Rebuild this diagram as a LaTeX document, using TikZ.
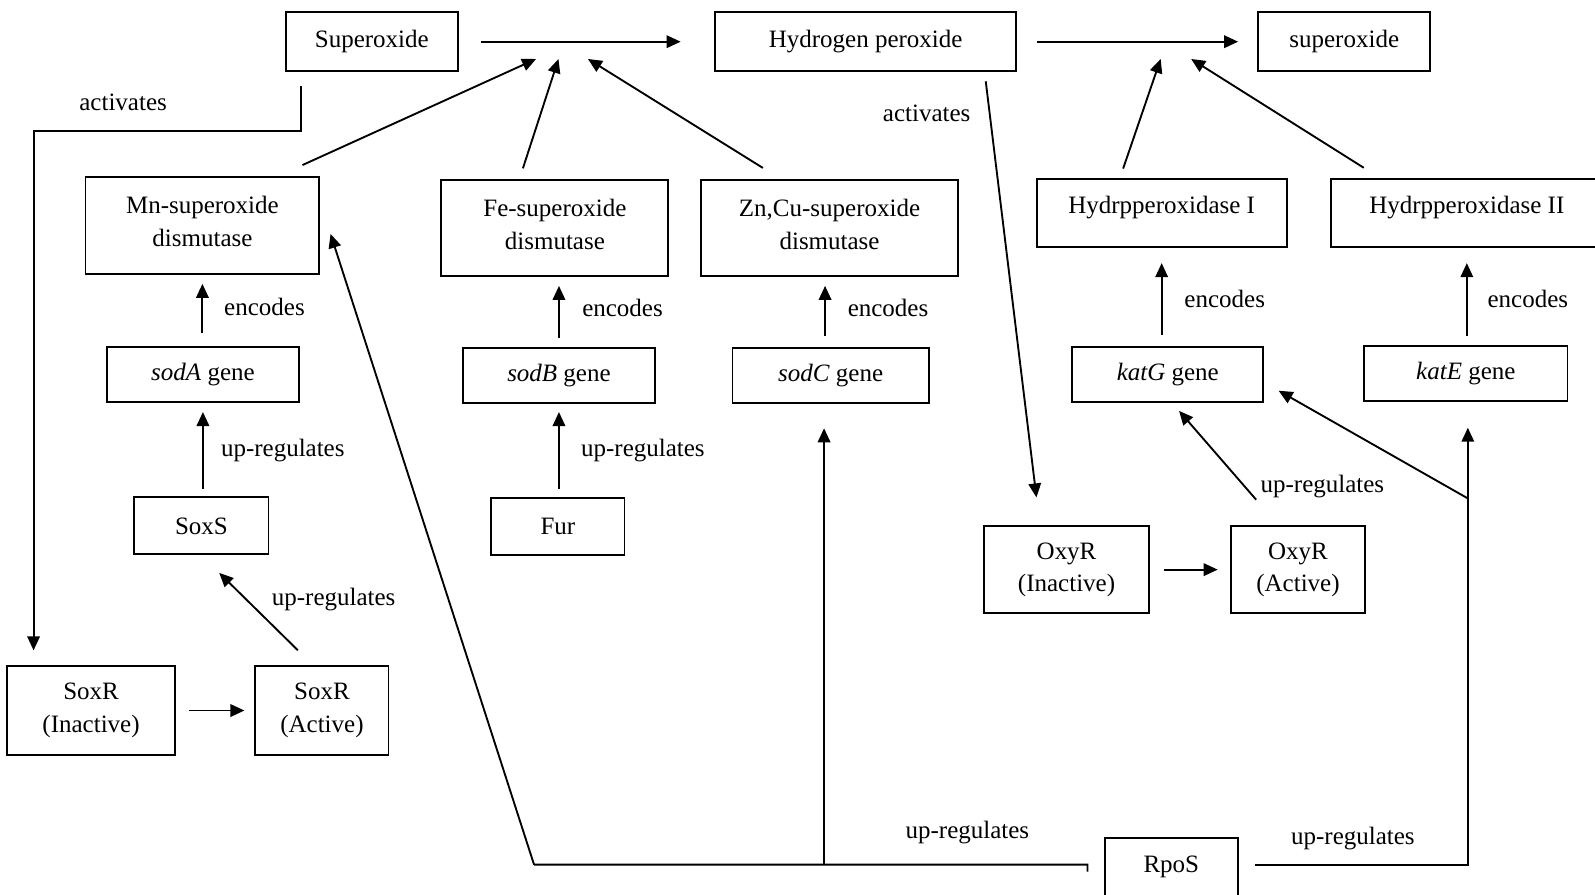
\documentclass[tikz,border=0pt]{standalone}
\usepackage{fontspec}
\setmainfont{Liberation Serif}
\usetikzlibrary{arrows.meta}

\begin{document}
\begin{tikzpicture}[x=0.407pt,y=-0.407pt,
		font=\fontsize{10}{13}\selectfont,
		box/.style={draw,line width=0.75pt,align=center,inner sep=1pt},
		arr/.style={line width=0.75pt,-{Triangle[length=5.6pt,width=5pt]}},
		lne/.style={line width=0.75pt},
		lbl/.style={inner sep=1pt}]
		\useasboundingbox (0,0) rectangle (1568,879);
		% top row
		\node[box,minimum width=68.8pt,minimum height=23.6pt] (sup) at (365.5,41) {Superoxide};
		\node[box,minimum width=120.5pt,minimum height=23.6pt] (hyd) at (851,41) {Hydrogen peroxide};
		\node[box,minimum width=68.8pt,minimum height=23.6pt] (supb) at (1321.5,41) {superoxide};
		\coordinate (t1) at (527,58);
		\coordinate (t2) at (549,58);
		\coordinate (t3) at (578,58);
		\coordinate (t4) at (1141,58);
		\coordinate (t5) at (1171,58);
		\draw[arr,shorten <=9pt,shorten >=13.4pt] (sup) -- (hyd);
		\draw[arr,shorten <=8.1pt,shorten >=7.7pt] (hyd) -- (supb);
		% enzymes
		\node[box,minimum width=93.6pt,minimum height=38.7pt] (mn) at (199,221.5) {Mn-superoxide\\dismutase\\[-10pt]};
		\node[box,minimum width=90.8pt,minimum height=38.3pt] (fe) at (545.5,224) {Fe-superoxide\\dismutase\\[-10pt]};
		\node[box,minimum width=103pt,minimum height=38.3pt] (zn) at (815.5,224) {Zn,Cu-superoxide\\dismutase\\[-10pt]};
		\node[box,minimum width=100.1pt,minimum height=27.3pt] (hpa) at (1142,209.5) {Hydrpperoxidase I\\[-6pt]};
		\node[box,minimum width=109pt,minimum height=27.3pt] (hpb) at (1442,209.5) {Hydrpperoxidase II\\[-6pt]};
		\draw[arr,shorten <=10.6pt] (mn.33) -- (t1);
		\draw[arr,shorten <=4.5pt] (fe.126) -- (t2);
		\draw[arr,shorten <=8.4pt] (zn.135) -- (t3);
		\draw[arr,shorten <=4pt] (hpa.140) -- (t4);
		\draw[arr,shorten <=7.7pt] (hpb.158) -- (t5);
		% genes
		\node[box,minimum width=77pt,minimum height=22pt] (soda) at (199.5,368) {\textit{sodA} gene};
		\node[box,minimum width=77pt,minimum height=22pt] (sodb) at (549.5,369) {\textit{sodB} gene};
		\node[box,minimum width=78.5pt,minimum height=22pt] (sodc) at (816.5,369) {\textit{sodC} gene};
		\node[box,minimum width=76.5pt,minimum height=22pt] (katg) at (1148,368) {\textit{katG} gene};
		\node[box,minimum width=81.4pt,minimum height=22pt] (kate) at (1441,367.5) {\textit{katE} gene};
		\draw[arr,shorten <=5pt,shorten >=3.7pt] (soda.north -| mn.south) -- (mn.south);
		\draw[arr,shorten <=3.7pt,shorten >=3.7pt] (sodb.north) -- (sodb.north |- fe.south);
		\draw[arr,shorten <=4.5pt,shorten >=3.7pt] ([xshift=-2.2pt]sodc.north) -- ([xshift=-2.2pt]sodc.north |- zn.south);
		\draw[arr,shorten <=4.5pt,shorten >=6pt] (katg.north -| hpa.south) -- (hpa.south);
		\draw[arr,shorten <=3.7pt,shorten >=6pt] (kate.north -| hpb.south) -- (hpb.south);
		\node[lbl] (enca) at (260,302) {encodes};
		\node[lbl] (encb) at (612,303) {encodes};
		\node[lbl] (encc) at (873,303) {encodes};
		\node[lbl] (encd) at (1204,294) {encodes};
		\node[lbl] (ence) at (1502,294) {encodes};
		% regulators
		\node[box,minimum width=53.7pt,minimum height=22.8pt] (soxs) at (198,517) {SoxS};
		\node[box,minimum width=53.3pt,minimum height=22.8pt] (fur) at (548.5,518) {Fur};
		\node[box,minimum width=67.2pt,minimum height=35.4pt] (soxri) at (89.5,698.5) {SoxR\\(Inactive)};
		\node[box,minimum width=53.3pt,minimum height=35.4pt] (soxra) at (316.5,698.5) {SoxR\\(Active)};
		\node[box,minimum width=66.3pt,minimum height=35pt] (oxyri) at (1048.5,560) {OxyR\\(Inactive)};
		\node[box,minimum width=53.7pt,minimum height=35pt] (oxyra) at (1276,560) {OxyR\\(Active)};
		\node[box,minimum width=53.3pt,minimum height=23.2pt] (rpos) at (1151.5,852.5) {RpoS};
		\draw[arr,shorten <=2.9pt,shorten >=3.7pt] (soxs.north -| soda.south) -- (soda.south);
		\draw[arr,shorten <=3.3pt,shorten >=3.3pt] (fur.north -| sodb.south) -- (sodb.south);
		\draw[arr,shorten <=5.3pt,shorten >=4pt] (soxri) -- (soxra);
		\draw[arr,shorten <=8.6pt,shorten >=10pt] (soxra.101) -- (soxs.south);
		\draw[arr,shorten <=5.3pt,shorten >=4.9pt] (oxyri) -- (oxyra);
		\draw[arr,shorten <=13.4pt,shorten >=4.3pt] (oxyra.114.6) -- ([xshift=1.7pt]katg.south);
		\node[lbl] (upa) at (278,443) {up-regulates};
		\node[lbl] (upb) at (632,443) {up-regulates};
		\node[lbl] (upc) at (328,589) {up-regulates};
		\node[lbl] (upd) at (1300,478) {up-regulates};
		% activation
		\coordinate (act) at (33,129);
		\draw[arr,shorten <=5.7pt,shorten >=6pt] ([xshift=-28.3pt]sup.south) |- (act) -- (act |- soxri.north);
		\draw[arr,shorten <=3.7pt,shorten >=11.1pt] ([xshift=47.6pt]hyd.south) -- ([xshift=-10.7pt]oxyri.north);
		\node[lbl] (acta) at (121,101) {activates};
		\node[lbl] (actb) at (911,111) {activates};
		% RpoS
		\coordinate (rpl) at (525,850);
		\coordinate (rpr) at (1443,850);
		\coordinate (kbr) at (1443,490);
		\draw[lne] ([xshift=-6.5pt,yshift=-1.8pt]rpos.west) -- ([xshift=-6.5pt,yshift=1pt]rpos.west) -- (rpl);
		\draw[arr,shorten >=13.3pt] (rpl) -- ([yshift=9.2pt]mn.east);
		\draw[arr,shorten >=9.8pt] ([xshift=-2.6pt]sodc.south |- rpl) -- ([xshift=-2.6pt]sodc.south);
		\draw[arr,shorten <=6.5pt,shorten >=10.2pt] ([yshift=1pt]rpos.east) -| (kate.south -| rpr);
		\draw[arr,shorten >=6.6pt] (kbr) -- ([yshift=-3.3pt]katg.east);
		\node[lbl] (upe) at (951,818) {up-regulates};
		\node[lbl] (upf) at (1330,824) {up-regulates};
	\end{tikzpicture}
\end{document}
